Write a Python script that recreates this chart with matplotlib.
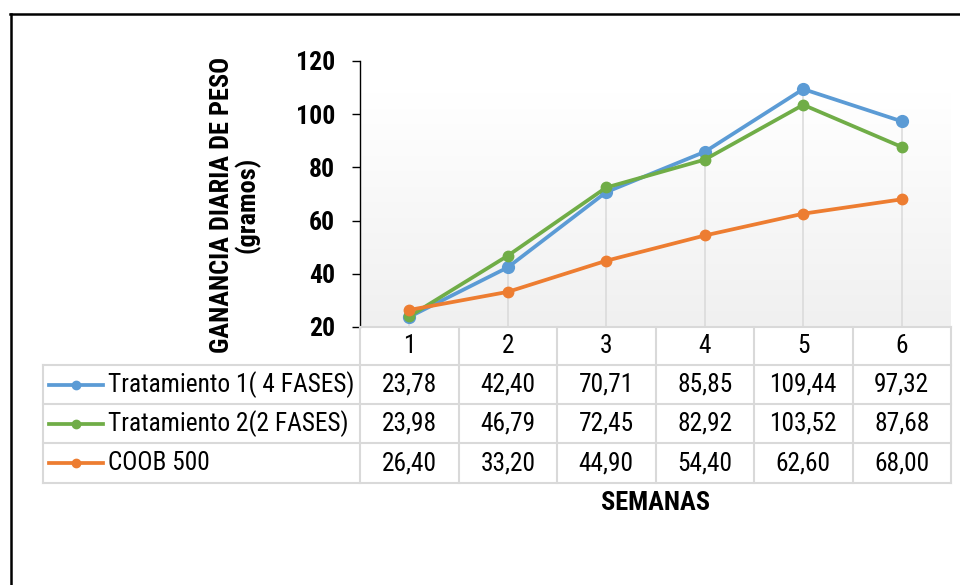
import numpy as np
import matplotlib.pyplot as plt
from matplotlib import font_manager
from matplotlib.lines import Line2D
from matplotlib.colors import LinearSegmentedColormap
from matplotlib.transforms import blended_transform_factory

# fuente estrecha si la hay; si no, Arial-compatible un poco mas pequena
disponibles = {f.name for f in font_manager.fontManager.ttflist}
escala = 0.84
fuente = "Liberation Sans"
for cand in ["Liberation Sans Narrow", "Roboto Condensed", "DejaVu Sans Condensed"]:
    if cand in disponibles:
        fuente, escala = cand, 1.0
        break
plt.rcParams['font.family'] = [fuente, 'DejaVu Sans']
TXT = 19 * escala
TABLA = 18.3 * escala

semanas = [1, 2, 3, 4, 5, 6]
nombres = ["Tratamiento 1( 4 FASES)", "Tratamiento 2(2 FASES)", "COOB 500"]
trat1 = [23.78, 42.40, 70.71, 85.85, 109.44, 97.32]
trat2 = [23.98, 46.79, 72.45, 82.92, 103.52, 87.68]
coob = [26.40, 33.20, 44.90, 54.40, 62.60, 68.00]
colores = ["#5B9BD5", "#70AD47", "#ED7D31"]
marcas = [8.5, 7.5, 7.5]

W, H = 960, 585
GRID = "#d9d9d9"


def fx(px):
    return px / W


def fy(py):
    return 1 - py / H


fig = plt.figure(figsize=(9.6, 5.85), dpi=100)

# marco negro
fig.add_artist(Line2D([fx(11), fx(11)], [fy(14), fy(600)], color="black", lw=1.8))
fig.add_artist(Line2D([fx(10), fx(970)], [fy(14), fy(14)], color="black", lw=1.8))

ax = fig.add_axes([fx(360), fy(327), fx(951) - fx(360), fy(61) - fy(327)])

# fondo degradado del area de trazado
fondo = LinearSegmentedColormap.from_list("fondo", [(0, "#ffffff"), (0.12, "#ffffff"), (1, "#f0f0f0")])
ax.imshow(np.linspace(0, 1, 256)[:, None], extent=[0.5, 6.5, 20, 120], aspect="auto",
          cmap=fondo, zorder=0)

series = [trat1, trat2, coob]
ax.vlines(semanas, 20, np.max(series, axis=0), color=GRID, lw=1.1, zorder=1)

for vals, c, ms in zip(series, colores, marcas):
    ax.plot(semanas, vals, color=c, lw=2.7, marker="o", ms=ms, zorder=3)

ax.set_xlim(0.5, 6.5)
ax.set_ylim(20, 120)
ax.set_xticks([])
ax.set_yticks([20, 40, 60, 80, 100, 120])
for s in ["top", "right", "bottom"]:
    ax.spines[s].set_visible(False)
ax.spines["left"].set_color("black")
ax.spines["left"].set_linewidth(1)
ax.tick_params(axis="y", length=6, width=1, direction="out", labelsize=18.5 * escala, pad=12)
for lab in ax.get_yticklabels():
    lab.set_fontweight("bold")

fig.text(fx(235), fy(205), "GANANCIA DIARIA DE PESO\n(gramos)", rotation=90,
         ha="center", va="center", multialignment="center",
         fontsize=TXT, fontweight="bold", linespacing=1.0)

# tabla de datos
tr = blended_transform_factory(ax.transData, fig.transFigure)
filas = [327, 365, 404, 443, 483]

fig.add_artist(Line2D([fx(360), fx(951)], [fy(327), fy(327)], color=GRID, lw=1.5))
for py in filas[1:]:
    fig.add_artist(Line2D([fx(43), fx(951)], [fy(py), fy(py)], color=GRID, lw=1.5))
fig.add_artist(Line2D([fx(43), fx(43)], [fy(365), fy(483)], color=GRID, lw=1.5))
for xb in np.arange(0.5, 7.0, 1.0):
    fig.add_artist(Line2D([xb, xb], [fy(327), fy(483)], color=GRID, lw=1.5, transform=tr))

for s in semanas:
    fig.text(s, fy(346), str(s), transform=tr, ha="center", va="center", fontsize=TABLA)

for i, (nombre, vals, c) in enumerate(zip(nombres, series, colores)):
    yc = (filas[i + 1] + filas[i + 2]) / 2
    fig.add_artist(Line2D([fx(49), fx(103)], [fy(yc), fy(yc)], color=c, lw=2.7))
    fig.add_artist(Line2D([fx(76)], [fy(yc)], color=c, marker="o", ms=6, lw=0))
    fig.text(fx(108), fy(yc), nombre, ha="left", va="center", fontsize=TABLA)
    for s, v in zip(semanas, vals):
        fig.text(s, fy(yc), f"{v:.2f}".replace(".", ","), transform=tr,
                 ha="center", va="center", fontsize=TABLA)

fig.text(fx(655), fy(503), "SEMANAS", ha="center", va="center", fontsize=TXT,
         fontweight="bold")

fig.savefig("out.png", dpi=100)
